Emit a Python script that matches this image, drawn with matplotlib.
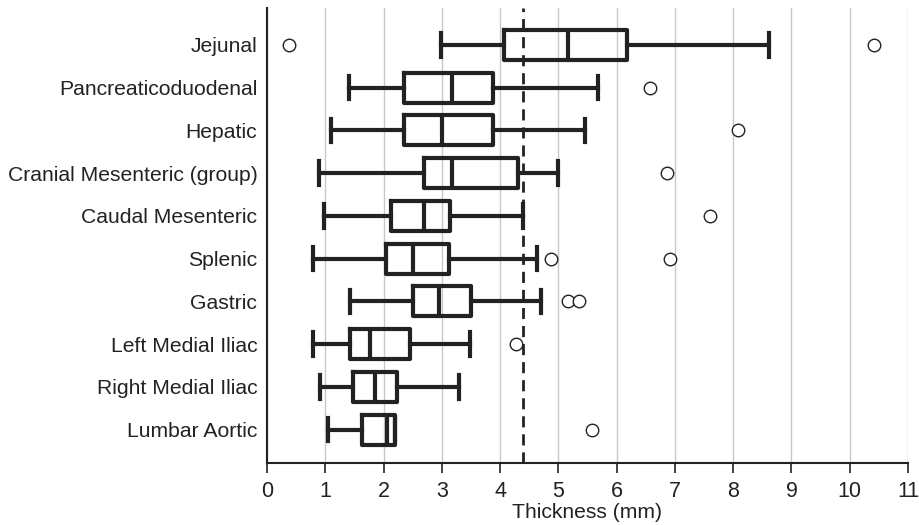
import matplotlib
matplotlib.use("Agg")
import matplotlib.pyplot as plt

plt.rcParams["font.family"] = ["Liberation Sans", "DejaVu Sans"]

# (mm)
groups = ["Jejunal", "Pancreaticoduodenal", "Hepatic", "Cranial Mesenteric (group)",
          "Caudal Mesenteric", "Splenic", "Gastric", "Left Medial Iliac",
          "Right Medial Iliac", "Lumbar Aortic"]
whis_lo = [2.99, 1.40, 1.09, 0.90, 0.97, 0.79, 1.42, 0.79, 0.91, 1.04]
q1 = [4.06, 2.35, 2.35, 2.70, 2.13, 2.05, 2.50, 1.43, 1.47, 1.63]
median = [5.17, 3.18, 3.01, 3.18, 2.69, 2.50, 2.96, 1.76, 1.85, 2.06]
q3 = [6.18, 3.87, 3.87, 4.31, 3.14, 3.12, 3.50, 2.45, 2.23, 2.19]
whis_hi = [8.61, 5.68, 5.45, 4.99, 4.40, 4.63, 4.71, 3.48, 3.29, 2.19]
outliers = [[0.37, 10.42], [6.58], [8.08], [6.87], [7.60], [4.88, 6.91],
            [5.16, 5.35], [4.27], [], [5.58]]
reference_line = 4.39

stats = []
for i, name in enumerate(groups):
    stats.append({
        "label": name,
        "whislo": whis_lo[i],
        "q1": q1[i],
        "med": median[i],
        "q3": q3[i],
        "whishi": whis_hi[i],
        "fliers": outliers[i],
    })

fig = plt.figure(figsize=(9.19, 5.25), dpi=100)
ax = fig.add_axes([267 / 919, 62 / 525, 641 / 919, 455 / 525])

positions = list(range(1, len(groups) + 1))
lw = 3.0
ax.bxp(
    stats,
    positions=positions,
    vert=False,
    widths=0.7,
    capwidths=0.55,
    patch_artist=False,
    boxprops=dict(color="#222222", linewidth=lw),
    medianprops=dict(color="#222222", linewidth=lw),
    whiskerprops=dict(color="#222222", linewidth=lw),
    capprops=dict(color="#222222", linewidth=lw),
    flierprops=dict(marker="o", markersize=9, markerfacecolor="white",
                    markeredgecolor="#222222", markeredgewidth=1.0),
    zorder=3,
)

ax.axvline(reference_line, color="#222222", linewidth=2.0,
           linestyle=(0, (4, 2.5)), zorder=4)

ax.set_xlim(0, 11)
ax.set_ylim(10.78, 0.14)
ax.set_xticks(range(0, 12))
ax.grid(axis="x", color="#c8c8c8", linewidth=1.0, zorder=0)
ax.set_axisbelow(True)

for side in ["top", "right"]:
    ax.spines[side].set_visible(False)
for side in ["left", "bottom"]:
    ax.spines[side].set_color("#222222")
    ax.spines[side].set_linewidth(1.5)

ax.tick_params(axis="x", direction="out", length=7, width=1.2, pad=6,
               labelsize=15.5, colors="#222222")
ax.tick_params(axis="y", length=0, labelsize=15.2, pad=7, colors="#222222")
ax.set_yticklabels(groups)
ax.set_xlabel("Thickness (mm)", fontsize=15.2, color="#222222", labelpad=1)

fig.savefig("out.png", dpi=100)
